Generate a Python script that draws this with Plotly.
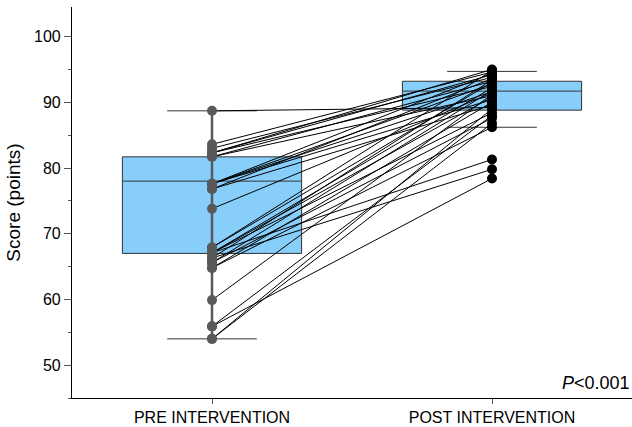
import plotly.graph_objects as go

# ---- data ----
categories = ["PRE INTERVENTION", "POST INTERVENTION"]

pre_scores = [88.7, 83.6, 83.0, 82.3, 82.3, 81.7, 81.7, 82.3,
              77.6, 77.6, 77.6, 76.8, 76.8, 77.6, 73.8,
              67.9, 67.9, 67.1, 67.1, 67.1, 67.1, 66.3, 66.3,
              65.6, 65.6, 64.8, 64.8, 59.9, 55.9, 55.9, 54.0, 54.0]
post_scores = [89.2, 94.6, 93.8, 95.0, 92.4, 93.2, 91.0, 94.2,
               94.4, 92.8, 90.4, 93.6, 89.6, 91.6, 91.4,
               94.8, 93.0, 92.2, 90.8, 88.4, 81.3, 93.4, 79.8,
               91.8, 87.6, 90.0, 86.2, 91.2, 88.0, 78.4, 86.8, 89.0]

# box statistics
q1 = [67.0, 88.8]
median = [78.0, 91.7]
q3 = [81.7, 93.2]
lower_fence = [54.0, 86.2]
upper_fence = [88.7, 94.7]

y_ticks = [50, 60, 70, 80, 90, 100]
p_text = "<i>P</i>&lt;0.001"

FONT = "Arial, Liberation Sans, Helvetica, sans-serif"
xpos = [1, 2]

fig = go.Figure()

# boxes
fig.add_trace(go.Box(
    x=xpos, q1=q1, median=median, q3=q3,
    lowerfence=lower_fence, upperfence=upper_fence,
    width=0.64, whiskerwidth=0.5,
    fillcolor="#87CEFA", line=dict(color="#333333", width=1),
    boxpoints=False, hoverinfo="skip", showlegend=False,
))

# gray whisker spine behind pre points
fig.add_trace(go.Scatter(
    x=[xpos[0], xpos[0]], y=[min(pre_scores), max(pre_scores)],
    mode="lines", line=dict(color="#595959", width=2.5),
    hoverinfo="skip", showlegend=False,
))

# paired lines
lx, ly = [], []
for a, b in zip(pre_scores, post_scores):
    lx += [xpos[0], xpos[1], None]
    ly += [a, b, None]
fig.add_trace(go.Scatter(
    x=lx, y=ly, mode="lines", line=dict(color="black", width=1),
    hoverinfo="skip", showlegend=False,
))

# points
fig.add_trace(go.Scatter(
    x=[xpos[0]] * len(pre_scores), y=pre_scores, mode="markers",
    marker=dict(color="#595959", size=10), showlegend=False,
))
fig.add_trace(go.Scatter(
    x=[xpos[1]] * len(post_scores), y=post_scores, mode="markers",
    marker=dict(color="black", size=10), showlegend=False,
))

fig.add_annotation(
    text=p_text, xref="paper", yref="paper", x=1.0, y=0.038,
    xanchor="right", yanchor="middle", showarrow=False,
    font=dict(family=FONT, size=18, color="black"),
)

fig.update_layout(
    width=632, height=427,
    margin=dict(l=72, r=0, t=7, b=29),
    plot_bgcolor="white", paper_bgcolor="white",
    font=dict(family=FONT, color="black"),
    showlegend=False,
    xaxis=dict(
        range=[0.5, 2.5], tickvals=xpos, ticktext=categories,
        showline=True, linecolor="black", linewidth=1.2,
        ticks="outside", ticklen=5, tickcolor="#555555",
        tickfont=dict(family=FONT, size=16, color="black"),
        showgrid=False, zeroline=False,
    ),
    yaxis=dict(
        range=[45, 104.5], tickvals=y_ticks,
        showline=True, linecolor="black", linewidth=1.2,
        ticks="outside", ticklen=7, tickcolor="#555555",
        ticklabelstandoff=0,
        tickfont=dict(family=FONT, size=16, color="black"),
        minor=dict(dtick=5, tick0=0, ticks="outside", ticklen=3, tickcolor="#555555"),
        title=dict(text="Score (points)", font=dict(family=FONT, size=19, color="black"), standoff=8),
        showgrid=False, zeroline=False,
    ),
)

fig.write_html(
    "out.html",
    config={"displayModeBar": False},
    post_script="document.body.style.margin='0px';document.body.style.overflow='hidden';",
)
